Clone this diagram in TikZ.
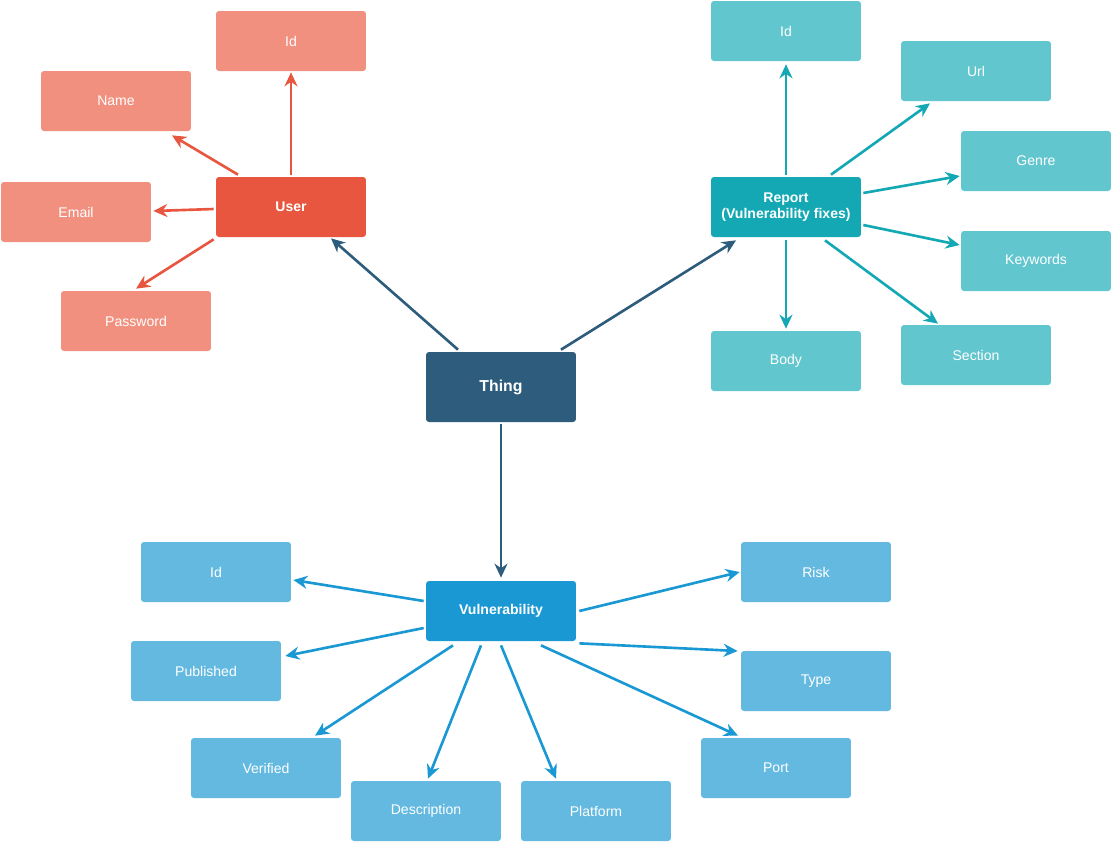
\documentclass[tikz,border=0pt]{standalone}
\usepackage{fontspec}
\setmainfont{Liberation Sans}
\usetikzlibrary{arrows.meta,calc}
\definecolor{userc}{HTML}{E8563F}
\definecolor{userl}{HTML}{F1907F}
\definecolor{repc}{HTML}{13A8B3}
\definecolor{repl}{HTML}{62C6CF}
\definecolor{vulc}{HTML}{1A98D3}
\definecolor{vull}{HTML}{63B9E0}
\definecolor{thingc}{HTML}{2E5C7D}

\begin{document}
\begin{tikzpicture}[x=0.02cm,y=-0.02cm,
  every node/.style={font=\fontsize{8}{9.5}\selectfont,text=white},
  box/.style={rounded corners=0.6mm,minimum width=3cm,minimum height=1.2cm,
              inner sep=0pt,align=center},
  main/.style={box,font=\fontsize{8}{9.5}\selectfont\bfseries},
  arr/.style={-{Stealth[length=2.8mm,width=2.6mm]},line width=1.5pt}
]
\useasboundingbox (0,0) rectangle (1113,843);
\node[main,fill=thingc,minimum height=1.4cm,font=\fontsize{9}{11}\selectfont\bfseries]
  (T) at (501,387) {Thing};
\node[main,fill=userc] (U) at (291,207) {User};
\node[main,fill=repc] (R) at (786,207) {Report\\(Vulnerability fixes)};
\node[main,fill=vulc] (Vu) at (501,611) {Vulnerability};
\node[box,fill=userl] (uId) at (291,41) {Id};
\node[box,fill=userl] (uName) at (116,101) {Name};
\node[box,fill=userl] (uMail) at (76,212) {Email};
\node[box,fill=userl] (uPw) at (136,321) {Password};
\node[box,fill=repl] (rId) at (786,31) {Id};
\node[box,fill=repl] (rUrl) at (976,71) {Url};
\node[box,fill=repl] (rGenre) at (1036,161) {Genre};
\node[box,fill=repl] (rKw) at (1036,261) {Keywords};
\node[box,fill=repl] (rSec) at (976,355) {Section};
\node[box,fill=repl] (rBody) at (786,361) {Body};
\node[box,fill=vull] (vId) at (216,572) {Id};
\node[box,fill=vull] (vPub) at (206,671) {Published};
\node[box,fill=vull] (vVer) at (266,768) {Verified};
\node[box,fill=vull] (vDesc) at (426,811) {Description};
\node[box,fill=vull] (vPlat) at (596,811) {Platform};
\node[box,fill=vull] (vPort) at (776,768) {Port};
\node[box,fill=vull] (vType) at (816,681) {Type};
\node[box,fill=vull] (vRisk) at (816,572) {Risk};
\draw[arr,thingc] ($(T.north)+(-43,-2)$)--($(U.south)+(40,1)$);
\draw[arr,thingc] ($(T.north)+(60,-2)$)--($(R.south)+(-50,3)$);
\draw[arr,thingc] ($(T.south)+(0,2)$)--($(Vu.north)+(0,-3)$);
\draw[arr,userc] ($(U.north)+(0,-2)$)--($(uId.south)+(0,1)$);
\draw[arr,userc] ($(U.north)+(-53,-2)$)--($(uName.south)+(56,4)$);
\draw[arr,userc] ($(U.west)+(-2,2)$)--($(uMail.east)+(2,-1)$);
\draw[arr,userc] ($(U.south west)+(-2,2)$)--($(uPw.north)+(0,-2)$);
\draw[arr,repc] ($(R.north)+(0,-2)$)--($(rId.south)+(0,3)$);
\draw[arr,repc] ($(R.north)+(45,-2)$)--($(rUrl.south)+(-46,2)$);
\draw[arr,repc] ($(R.east)+(2,-14)$)--($(rGenre.west)+(-1,15)$);
\draw[arr,repc] ($(R.east)+(2,18)$)--($(rKw.west)+(-1,-16)$);
\draw[arr,repc] ($(R.south)+(39,3)$)--($(rSec.north)+(-38,-1)$);
\draw[arr,repc] ($(R.south)+(0,3)$)--($(rBody.north)+(0,-2)$);
\draw[arr,vulc] ($(Vu.west)+(-2,-10)$)--($(vId.east)+(2,8)$);
\draw[arr,vulc] ($(Vu.west)+(-2,17)$)--($(vPub.east)+(4,-15)$);
\draw[arr,vulc] ($(Vu.south)+(-48,4)$)--($(vVer.north)+(49,-2)$);
\draw[arr,vulc] ($(Vu.south)+(-20,4)$)--($(vDesc.north)+(2,-2)$);
\draw[arr,vulc] ($(Vu.south)+(0,4)$)--($(vPlat.north)+(-40,-2)$);
\draw[arr,vulc] ($(Vu.south)+(40,4)$)--($(vPort.north)+(-38,-2)$);
\draw[arr,vulc] ($(Vu.south east)+(3,2)$)--($(vType.west)+(-3,-30)$);
\draw[arr,vulc] ($(Vu.east)+(3,0)$)--($(vRisk.west)+(-1,0)$);
\end{tikzpicture}
\end{document}
